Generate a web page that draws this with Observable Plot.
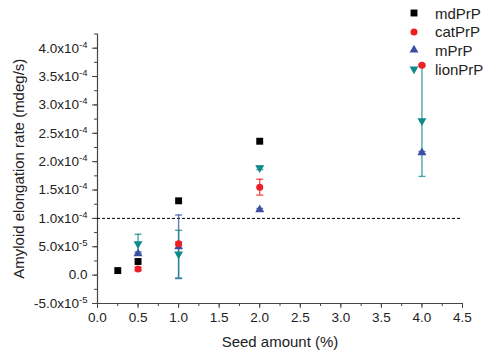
<!DOCTYPE html>
<html>
<head>
<meta charset="utf-8">
<script src="https://cdn.jsdelivr.net/npm/d3@7"></script>
<script src="https://cdn.jsdelivr.net/npm/@observablehq/plot@0.6"></script>
<style>
  body { margin: 0; background: #fff; font-family: "Liberation Sans", Arial, sans-serif; }
  #chart { position: relative; width: 483px; height: 356px; }
  .legend { position: absolute; left: 406px; top: 4px; font-size: 15px; color: #222; }
  .legend .row { display: flex; align-items: center; height: 18.6px; }
  .legend svg { width: 16px; height: 16px; margin-right: 13px; overflow: visible; }
</style>
</head>
<body>
<div id="chart"></div>
<script>
// Seed amount (%) and elongation rates, in units of 1e-4 mdeg/s
const seed = [0.25, 0.5, 1.0, 2.0, 4.0];

const mdPrP      = [0.08, 0.24, 1.31, 2.36, null];
const catPrP     = [null, 0.11, 0.555, 1.55, 3.70];
const catPrPErr  = [null, 0.03, 0.03, 0.14, 0.02];
const mPrP       = [null, 0.38, 0.50, 1.155, 2.16];
const mPrPErr    = [null, 0.03, 0.56, 0.02, 0.02];
const lionPrP    = [null, 0.55, 0.37, 1.89, 2.72];
const lionPrPErr = [null, 0.17, 0.42, 0.03, 0.98];

const threshold = 1.0;

const xTicks = [0, 0.5, 1.0, 1.5, 2.0, 2.5, 3.0, 3.5, 4.0, 4.5];
const xTickLabels = ["0.0", "0.5", "1.0", "1.5", "2.0", "2.5", "3.0", "3.5", "4.0", "4.5"];
const yTicks = [-0.5, 0, 0.5, 1.0, 1.5, 2.0, 2.5, 3.0, 3.5, 4.0];
const yTickLabels = ["-5.0x10^-5", "0.0", "5.0x10^-5", "1.0x10^-4", "1.5x10^-4",
                     "2.0x10^-4", "2.5x10^-4", "3.0x10^-4", "3.5x10^-4", "4.0x10^-4"];

const series = [
  {name: "mdPrP",   values: mdPrP,   err: null,       color: "#000000", symbol: "square",   r: 3.9, rotate: 0},
  {name: "catPrP",  values: catPrP,  err: catPrPErr,  color: "#ec1f24", symbol: "circle",   r: 3.5, rotate: 0},
  {name: "mPrP",    values: mPrP,    err: mPrPErr,    color: "#3a4fa2", symbol: "triangle", r: 3.3, rotate: 0},
  {name: "lionPrP", values: lionPrP, err: lionPrPErr, color: "#0f8a8a", symbol: "triangle", r: 3.3, rotate: 180}
];

const rows = [];
series.forEach(s => seed.forEach((x, i) => {
  if (s.values[i] != null) rows.push({series: s.name, x, y: s.values[i], err: s.err ? s.err[i] : null});
}));
const colorOf = Object.fromEntries(series.map(s => [s.name, s.color]));
const errRows = rows.filter(d => d.err != null);

// horizontal cap used at the ends of the error bars
const cap = {
  draw(context, size) {
    const w = Math.sqrt(size / Math.PI);
    context.moveTo(-w, 0);
    context.lineTo(w, 0);
  }
};

const xMinor = d3.range(0, 4.5001, 0.25);
const yMinor = d3.range(-0.5, 4.2501, 0.25);
const xLabel = new Map(xTicks.map((t, i) => [t, xTickLabels[i]]));
const yLabel = new Map(yTicks.map((t, i) => [t, yTickLabels[i]]));
const axisColor = "#444";

const marks = [
  Plot.axisX(xMinor, {tickSize: 3, tickFormat: () => "", stroke: axisColor, label: null}),
  Plot.axisX(xTicks, {tickSize: 5, tickPadding: 4, fontSize: 13.5, stroke: axisColor, fill: "#222",
                      tickFormat: d => xLabel.get(d), label: null}),
  Plot.axisY(yMinor, {tickSize: 3, tickFormat: () => "", stroke: axisColor, label: null}),
  Plot.axisY(yTicks, {tickSize: 5, tickPadding: 5, fontSize: 13.5, stroke: axisColor, fill: "#222",
                      tickFormat: d => yLabel.get(d), label: null}),
  Plot.ruleX([0], {stroke: axisColor, strokeWidth: 1.2}),
  Plot.ruleY([-0.5], {stroke: axisColor, strokeWidth: 1.2}),
  Plot.ruleY([threshold], {stroke: "#000", strokeDasharray: "3,2", strokeWidth: 1}),
  Plot.text(["Seed amount (%)"], {frameAnchor: "bottom", dy: 43, fontSize: 15, fill: "#222"}),
  Plot.text(["Amyloid elongation rate (mdeg/s)"], {frameAnchor: "left", textAnchor: "middle", rotate: -90,
                                                   dx: -78, fontSize: 15, fill: "#222"}),
  // error bars
  Plot.ruleX(errRows, {x: "x", y1: d => d.y - d.err, y2: d => d.y + d.err,
                       stroke: d => colorOf[d.series], strokeOpacity: 0.75, strokeWidth: 1.4}),
  Plot.dot(errRows, {x: "x", y: d => d.y + d.err, symbol: cap, r: 3.5,
                     stroke: d => colorOf[d.series], strokeOpacity: 0.75, strokeWidth: 1.4}),
  Plot.dot(errRows, {x: "x", y: d => d.y - d.err, symbol: cap, r: 3.5,
                     stroke: d => colorOf[d.series], strokeOpacity: 0.75, strokeWidth: 1.4})
];

// markers: drawn mdPrP, mPrP, catPrP, lionPrP
for (const name of ["mdPrP", "mPrP", "catPrP", "lionPrP"]) {
  const s = series.find(d => d.name === name);
  marks.push(Plot.dot(rows.filter(d => d.series === name), {
    x: "x", y: "y", symbol: s.symbol, r: s.r, rotate: s.rotate, fill: s.color, stroke: "none"
  }));
}

const chart = Plot.plot({
  width: 483,
  height: 356,
  marginLeft: 97,
  marginRight: 21,
  marginTop: 33.5,
  marginBottom: 53,
  x: {domain: [0, 4.5]},
  y: {domain: [-0.5, 4.25]},
  style: {fontFamily: "'Liberation Sans', Arial, sans-serif", background: "transparent", color: "#222"},
  marks
});

// render the "^exponent" part of the y tick labels as a superscript
const ns = "http://www.w3.org/2000/svg";
chart.querySelectorAll('g[aria-label="y-axis tick label"] text').forEach(t => {
  const m = t.textContent.match(/^(.*x10)\^(.*)$/);
  if (!m) return;
  t.textContent = "";
  const base = document.createElementNS(ns, "tspan");
  base.textContent = m[1];
  const sup = document.createElementNS(ns, "tspan");
  sup.setAttribute("dy", "-5");
  sup.setAttribute("font-size", "9.5");
  sup.textContent = m[2];
  t.append(base, sup);
});

const root = document.getElementById("chart");
root.append(chart);

// legend
const legend = document.createElement("div");
legend.className = "legend";
const legendSymbols = {square: d3.symbolSquare, circle: d3.symbolCircle, triangle: d3.symbolTriangle};
for (const s of series) {
  const row = document.createElement("div");
  row.className = "row";
  const path = d3.symbol(legendSymbols[s.symbol], Math.PI * s.r * s.r)();
  row.innerHTML = `<svg viewBox="-8 -8 16 16"><path d="${path}" fill="${s.color}" transform="rotate(${s.rotate})"></path></svg><span>${s.name}</span>`;
  legend.append(row);
}
root.append(legend);
</script>
</body>
</html>
